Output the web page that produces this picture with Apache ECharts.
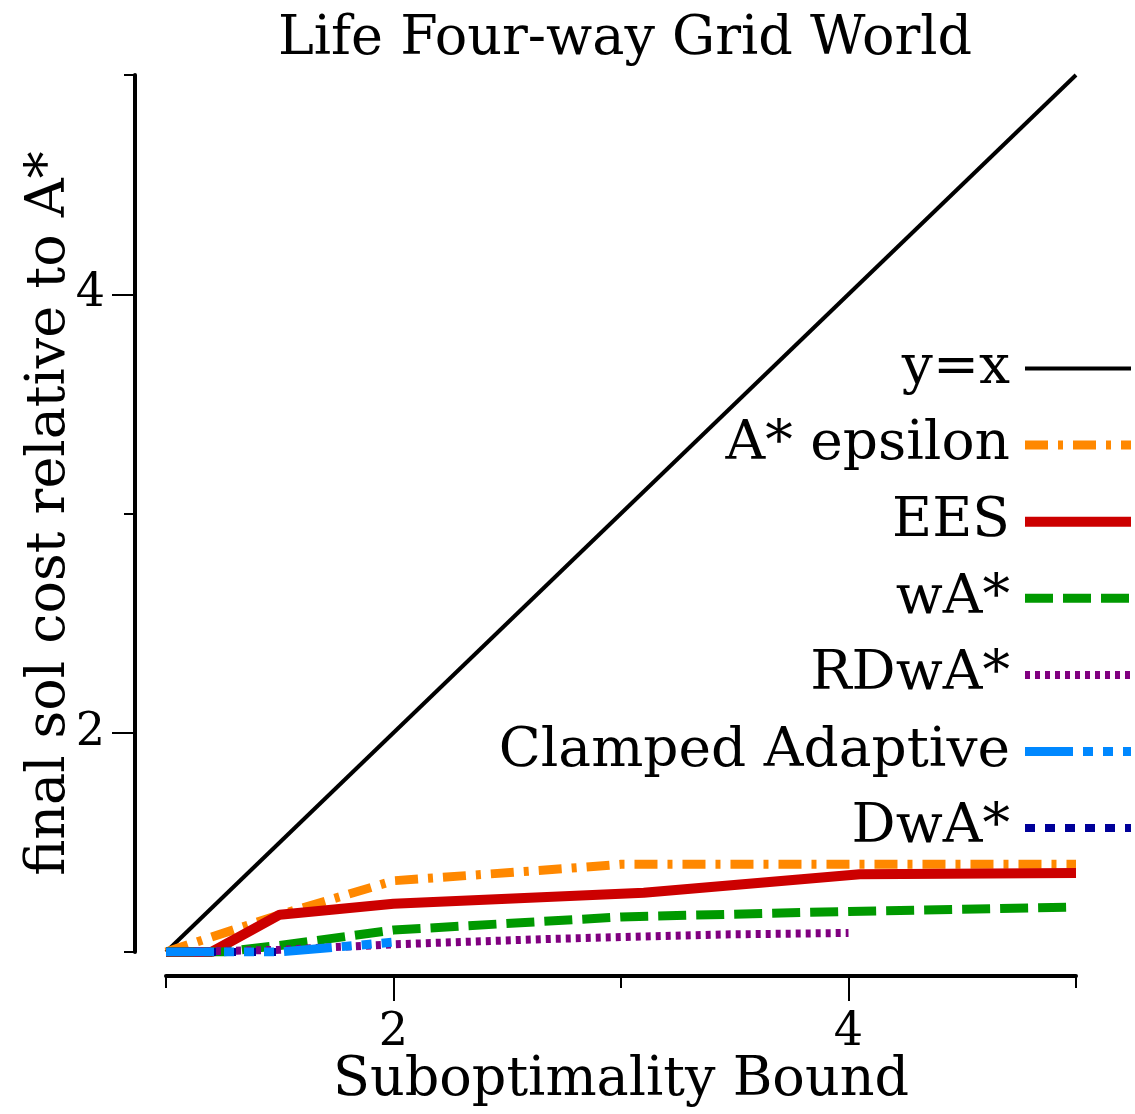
<!DOCTYPE html>
<html><head><meta charset="utf-8">
<script src="https://cdn.jsdelivr.net/npm/echarts@6/dist/echarts.min.js"></script>
<style>html,body{margin:0;padding:0;background:#fff}#c{width:1135px;height:1114px}</style>
</head><body><div id="c"></div>
<script>
// ---- data ----
const titleText = 'Life Four-way Grid World';
const xAxisName = 'Suboptimality Bound';
const yAxisName = 'final sol cost relative to A*';
const allTicks = [1, 2, 3, 4, 5];
const labelTicks = [2, 4];

const yxX = [1, 5];
const yxY = [1, 5];
const aepsX = [1, 1.5, 2, 2.75, 3, 3.75, 4.75, 5];
const aepsY = [1, 1.17, 1.325, 1.38, 1.40, 1.40, 1.40, 1.40];
const eesX = [1, 1.2, 1.5, 2, 3.1, 4.05, 5];
const eesY = [1, 1.0, 1.17, 1.22, 1.27, 1.355, 1.36];
const waX = [1, 1.25, 1.5, 2, 3, 4, 5];
const waY = [1, 1.0, 1.03, 1.1, 1.16, 1.185, 1.205];
const rdwaX = [1, 1.5, 2, 2.7, 3.45, 4];
const rdwaY = [1, 1.01, 1.035, 1.06, 1.08, 1.087];
const clampX = [1, 1.5, 2];
const clampY = [1, 1.0, 1.045];
const dwaX = [1, 1.25, 1.5];
const dwaY = [1, 1.0, 1.0];

const FONT = 'DejaVu Serif';
const pairs = (xs, ys) => xs.map((x, i) => [x, ys[i]]);

const defs = [
  {name: 'y=x', xs: yxX, ys: yxY, color: '#000000', width: 4, type: 'solid'},
  {name: 'A* epsilon', xs: aepsX, ys: aepsY, color: '#FF8800', width: 9, type: [23, 10, 5, 10]},
  {name: 'EES', xs: eesX, ys: eesY, color: '#CC0000', width: 10, type: 'solid'},
  {name: 'wA*', xs: waX, ys: waY, color: '#009900', width: 9, type: [28, 10]},
  {name: 'RDwA*', xs: rdwaX, ys: rdwaY, color: '#800080', width: 8, type: [5, 5]},
  {name: 'DwA*', xs: dwaX, ys: dwaY, color: '#000099', width: 8, type: [10, 10]},
  {name: 'Clamped Adaptive', xs: clampX, ys: clampY, color: '#0088FF', width: 9, type: [48, 10, 10, 10, 10, 10, 10, 10]}
];
const legendOrder = ['y=x', 'A* epsilon', 'EES', 'wA*', 'RDwA*', 'Clamped Adaptive', 'DwA*'];

const chart = echarts.init(document.getElementById('c'), null, {renderer: 'canvas'});

const axisCommon = {type: 'value', min: 1, max: 5, splitLine: {show: false}};

chart.setOption({
  animation: false,
  backgroundColor: '#fff',
  title: {
    text: titleText, left: 620, top: 8, textAlign: 'center',
    textStyle: {fontFamily: FONT, fontSize: 54, fontWeight: 'normal', color: '#000'}
  },
  grid: {left: 166, right: 59, top: 75, bottom: 162, containLabel: false},
  legend: {
    orient: 'vertical', align: 'right', right: -6, top: 336,
    itemWidth: 106, itemHeight: 20, itemGap: 21.6,
    data: legendOrder,
    itemStyle: {opacity: 0},
    lineStyle: {width: 'inherit'},
    textStyle: {fontFamily: FONT, fontSize: 55, color: '#000', lineHeight: 50, padding: [0, 10, 0, 0]}
  },
  xAxis: [
    Object.assign({}, axisCommon, {
      position: 'bottom', offset: 24,
      name: xAxisName, nameLocation: 'middle', nameGap: 78,
      nameTextStyle: {fontFamily: FONT, fontSize: 54, color: '#000'},
      axisLine: {show: true, lineStyle: {color: '#000', width: 4}},
      axisTick: {show: true, customValues: allTicks, length: 12, lineStyle: {color: '#000', width: 2}},
      axisLabel: {show: false}
    }),
    Object.assign({}, axisCommon, {
      position: 'bottom', offset: 24,
      axisLine: {show: false},
      axisTick: {show: true, customValues: labelTicks, length: 25, lineStyle: {color: '#000', width: 2}},
      axisLabel: {show: true, customValues: labelTicks, margin: 34, fontFamily: FONT, fontSize: 46, color: '#000'}
    })
  ],
  yAxis: [
    Object.assign({}, axisCommon, {
      position: 'left', offset: 31,
      name: yAxisName, nameLocation: 'middle', nameGap: 58,
      nameTextStyle: {fontFamily: FONT, fontSize: 54, color: '#000'},
      axisLine: {show: true, lineStyle: {color: '#000', width: 4}},
      axisTick: {show: true, customValues: allTicks, length: 11, lineStyle: {color: '#000', width: 2}},
      axisLabel: {show: false}
    }),
    Object.assign({}, axisCommon, {
      position: 'left', offset: 31,
      axisLine: {show: false},
      axisTick: {show: true, customValues: labelTicks, length: 23, lineStyle: {color: '#000', width: 2}},
      axisLabel: {show: true, customValues: labelTicks, margin: 30, fontFamily: FONT, fontSize: 46, color: '#000'}
    })
  ],
  series: defs.map(d => ({
    name: d.name, type: 'line', xAxisIndex: 0, yAxisIndex: 0,
    data: pairs(d.xs, d.ys), symbol: 'none', smooth: false,
    lineStyle: {color: d.color, width: d.width, type: d.type, cap: 'butt'},
    itemStyle: {color: d.color},
    emphasis: {disabled: true}
  }))
});
</script></body></html>
